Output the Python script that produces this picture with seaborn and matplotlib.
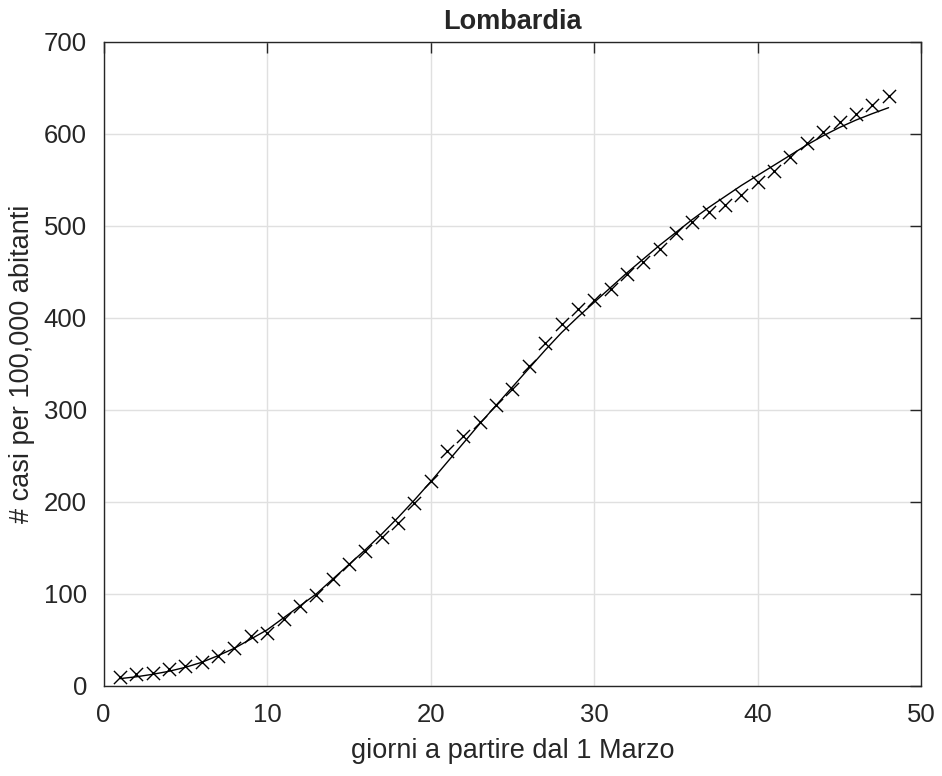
import numpy as np
import pandas as pd
import seaborn as sns
import matplotlib.pyplot as plt

# days since 1 March
days = list(range(1, 49))

cases = [9.5, 13.5, 14.5, 18, 22, 26, 33, 41.5, 54, 58,
         73, 87, 99, 116, 132.5, 147, 162, 177, 199, 223,
         255, 271.5, 287, 305.5, 322.5, 347.5, 372.5, 393.5, 409.5, 420,
         431.5, 447.5, 460.5, 475, 492, 504, 515, 522.5, 533.5, 547.5,
         560, 575, 590, 602.5, 612.5, 621.5, 631, 641]

# fitted curve
fit = [8, 10, 12.7, 16, 20.3, 25.7, 33, 41, 51, 61,
       74, 87, 100, 116, 132, 148, 165, 183, 202, 222,
       243, 264, 285, 305, 325, 345, 365, 384, 401, 417,
       433, 449, 464, 479, 493, 507, 520, 532, 544, 555,
       566, 577, 588, 598, 607, 615, 622, 628.5]

df = pd.DataFrame({'giorno': days, 'casi': cases, 'fit': fit})

sns.set_style('white')
plt.rcParams['font.family'] = ['Liberation Sans', 'DejaVu Sans']

fig = plt.figure(figsize=(9.42, 7.76), dpi=100)
ax = fig.add_axes([0.110, 0.116, 0.868, 0.830])

sns.lineplot(data=df, x='giorno', y='fit', color='black', linewidth=1.0, ax=ax)
sns.scatterplot(data=df, x='giorno', y='casi', marker='x', color='black',
                s=90, linewidth=1.0, ax=ax, zorder=3)

ax.set_xlim(0, 50)
ax.set_ylim(0, 700)
ax.set_xticks(range(0, 51, 10))
ax.set_yticks(range(0, 701, 100))
ax.grid(True, color='#e0e0e0', linewidth=1.0)
ax.set_axisbelow(True)
for sp in ax.spines.values():
    sp.set_color('#262626')
    sp.set_linewidth(1.0)
ax.tick_params(direction='in', length=8, width=1, color='#262626',
               top=True, right=True, labelsize=18.5, labelcolor='#262626')
ax.tick_params(axis='x', pad=12)
ax.tick_params(axis='y', pad=12)

ax.set_title('Lombardia', fontsize=19.5, fontweight='bold', pad=9)
ax.set_xlabel('giorni a partire dal 1 Marzo', fontsize=19.5, color='#262626', labelpad=8)
ax.set_ylabel('# casi per 100,000 abitanti', fontsize=19.5, color='#262626', labelpad=6)

fig.savefig('out.png', dpi=100)
